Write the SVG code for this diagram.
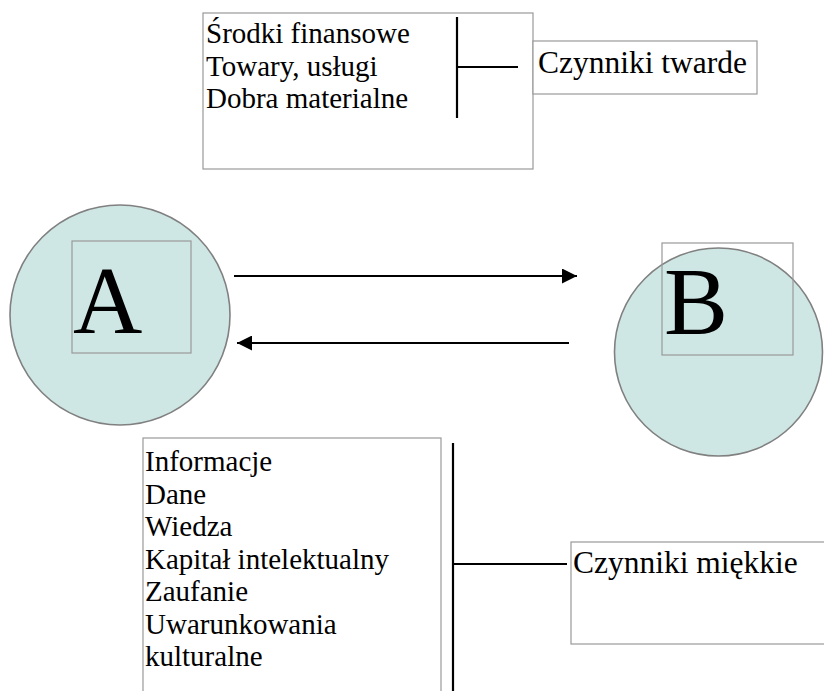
<svg xmlns="http://www.w3.org/2000/svg" width="824" height="691" viewBox="0 0 824 691">
<style>
.box{fill:#ffffff;stroke:#999999;stroke-width:1.2}
.frame{fill:none;stroke:#999999;stroke-width:1.2}
.circ{fill:#cfe7e4;stroke:#808080;stroke-width:1.6}
.t{font-family:"Liberation Serif","Times New Roman",serif;font-size:29px;fill:#000}
.h{font-family:"Liberation Serif","Times New Roman",serif;font-size:31.5px;fill:#000}
.big{font-family:"Liberation Serif","Times New Roman",serif;font-size:96px;fill:#000}
.ln{stroke:#000;stroke-width:2.2;fill:none}
</style>
<defs>
<marker id="ah" viewBox="0 0 10 10" refX="10" refY="5" markerWidth="15" markerHeight="15" markerUnits="userSpaceOnUse" orient="auto">
<path d="M0,0 L10,5 L0,10 Z" fill="#000"/>
</marker>
</defs>
<g id="hard-list">
<rect class="box" x="203" y="13" width="330" height="156"/>
<text class="t" x="206" y="43">Środki finansowe</text>
<text class="t" x="206" y="75.5">Towary, usługi</text>
<text class="t" x="206" y="108">Dobra materialne</text>
</g>
<g id="hard-label">
<rect class="box" x="533" y="41" width="224" height="53"/>
<text class="h" x="538" y="73">Czynniki twarde</text>
</g>
<g id="node-A">
<circle class="circ" cx="120" cy="315" r="110"/>
<rect class="frame" x="72" y="241" width="119" height="112"/>
<text class="big" x="73" y="333">A</text>
</g>
<g id="node-B">
<circle class="circ" cx="718.5" cy="352" r="104"/>
<rect class="frame" x="662" y="243" width="131" height="112"/>
<text class="big" x="664" y="334">B</text>
</g>
<g id="soft-list">
<rect class="box" x="143" y="438" width="298" height="270"/>
<text class="t" x="145" y="471">Informacje</text>
<text class="t" x="145" y="503.5">Dane</text>
<text class="t" x="145" y="536">Wiedza</text>
<text class="t" x="145" y="568.5">Kapitał intelektualny</text>
<text class="t" x="145" y="601">Zaufanie</text>
<text class="t" x="145" y="633.5">Uwarunkowania</text>
<text class="t" x="145" y="666">kulturalne</text>
</g>
<g id="soft-label">
<rect class="box" x="571" y="542" width="270" height="102"/>
<text class="h" x="573" y="573">Czynniki miękkie</text>
</g>
<g id="connectors">
<line class="ln" x1="457" y1="17" x2="457" y2="118"/>
<line class="ln" x1="457" y1="67" x2="518" y2="67"/>
<line class="ln" x1="234" y1="276" x2="577" y2="276" marker-end="url(#ah)"/>
<line class="ln" x1="569" y1="343" x2="237" y2="343" marker-end="url(#ah)"/>
<line class="ln" x1="453" y1="443" x2="453" y2="691"/>
<line class="ln" x1="453" y1="564" x2="567" y2="564"/>
</g>
</svg>
